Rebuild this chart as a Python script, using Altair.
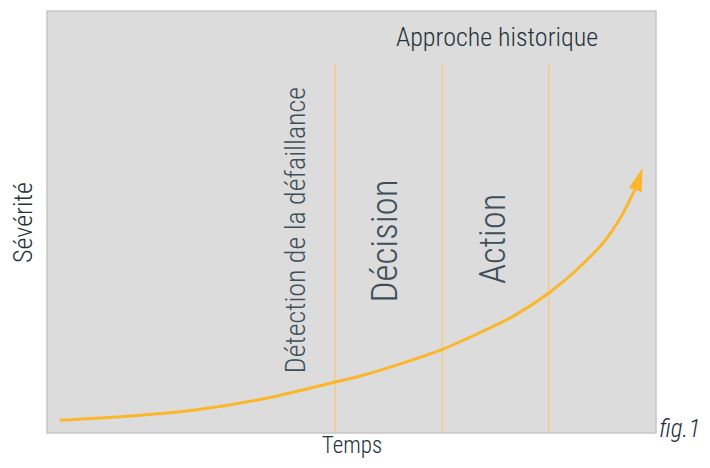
import altair as alt
import pandas as pd

# curve (time vs severity)
curve_x = [2.1, 13.6, 24.6, 35.5, 46.5, 51.9, 57.4, 64.9, 71.1, 76.6, 82.5, 87.5, 91.9, 94.6, 96.5]
curve_y = [3.0, 4.0, 5.5, 8.1, 11.8, 13.7, 16.1, 19.8, 23.8, 27.7, 33.3, 39.4, 46.1, 52.1, 57.6]

# arrow head
arrow_x = [97.2]
arrow_y = [60.2]

# phase separators
sep_x = [47.3, 64.9, 82.4]
sep_top = [87.4, 87.4, 87.4]

# phase labels
phase_labels = ["Détection de la défaillance", "Décision", "Action"]
phase_x = [41.1, 55.7, 73.4]
phase_y = [48.1, 45.5, 46.0]
phase_size = [28, 37, 36.5]

top_label = ["Approche historique"]
top_x = [73.9]
top_y = [93.6]

fig_label = ["fig.1"]
fig_x = [103.9]
fig_y = [0.9]

FONT = "Roboto Condensed, Liberation Sans Narrow, DejaVu Sans Condensed, Roboto"

xs = alt.Scale(domain=[0, 100], nice=False, zero=False)
ys = alt.Scale(domain=[0, 100], nice=False, zero=False)

curve_df = pd.DataFrame({"x": curve_x, "y": curve_y, "o": list(range(len(curve_x)))})
sep_df = pd.DataFrame({"x": sep_x, "y": [0] * len(sep_x), "y2": sep_top})
phase_df = pd.DataFrame({"t": phase_labels, "x": phase_x, "y": phase_y, "s": phase_size})
top_df = pd.DataFrame({"t": top_label, "x": top_x, "y": top_y})
fig_df = pd.DataFrame({"t": fig_label, "x": fig_x, "y": fig_y})
arrow_df = pd.DataFrame({"x": arrow_x, "y": arrow_y})

base_x = alt.X("x:Q", scale=xs, axis=alt.Axis(title="Temps", labels=False, ticks=False,
               domain=False, grid=False, titleFont=FONT, titleFontSize=23,
               titleFontWeight=300, titleColor="#263238", titlePadding=1))
base_y = alt.Y("y:Q", scale=ys, axis=alt.Axis(title="Sévérité", labels=False, ticks=False,
               domain=False, grid=False, titleFont=FONT, titleFontSize=26,
               titleFontWeight=300, titleColor="#263238", titlePadding=11))

seps = alt.Chart(sep_df).mark_rule(color="#fdc460", strokeWidth=1).encode(
    x=base_x, y=base_y, y2="y2:Q")

line = alt.Chart(curve_df).mark_line(color="#fbb62b", strokeWidth=3,
                                     interpolate="monotone").encode(
    x=alt.X("x:Q", scale=xs), y=alt.Y("y:Q", scale=ys), order="o:Q")

arrow = alt.Chart(arrow_df).mark_point(
    shape="M0,-1L0.58,1L-0.58,1Z", filled=True, fill="#fbb62b", opacity=1,
    size=540, angle=18, strokeWidth=0).encode(
    x=alt.X("x:Q", scale=xs), y=alt.Y("y:Q", scale=ys))

phases = alt.Chart(phase_df).mark_text(angle=270, font=FONT, fontWeight=300,
                                       color="#3d4f5a",
                                       align="center", baseline="middle").encode(
    x=alt.X("x:Q", scale=xs), y=alt.Y("y:Q", scale=ys), text="t:N",
    size=alt.Size("s:Q", scale=None, legend=None))

top = alt.Chart(top_df).mark_text(font=FONT, fontSize=26, fontWeight=300,
                                  color="#263238",
                                  align="center", baseline="middle").encode(
    x=alt.X("x:Q", scale=xs), y=alt.Y("y:Q", scale=ys), text="t:N")

fig = alt.Chart(fig_df).mark_text(font=FONT, fontSize=25, fontWeight=300,
                                  fontStyle="italic",
                                  color="#1c2b36", align="center", baseline="middle").encode(
    x=alt.X("x:Q", scale=xs), y=alt.Y("y:Q", scale=ys), text="t:N")

chart = alt.layer(seps, line, arrow, phases, top, fig).properties(
    width=609, height=422,
    autosize=alt.AutoSizeParams(type="none"),
    padding={"left": 39, "top": 3, "right": 46, "bottom": 27},
).configure_view(fill="#dcdcdc", stroke="#c6c6c6", strokeWidth=1.5)

chart.save("out.html", embed_options={"renderer": "svg", "actions": False})
